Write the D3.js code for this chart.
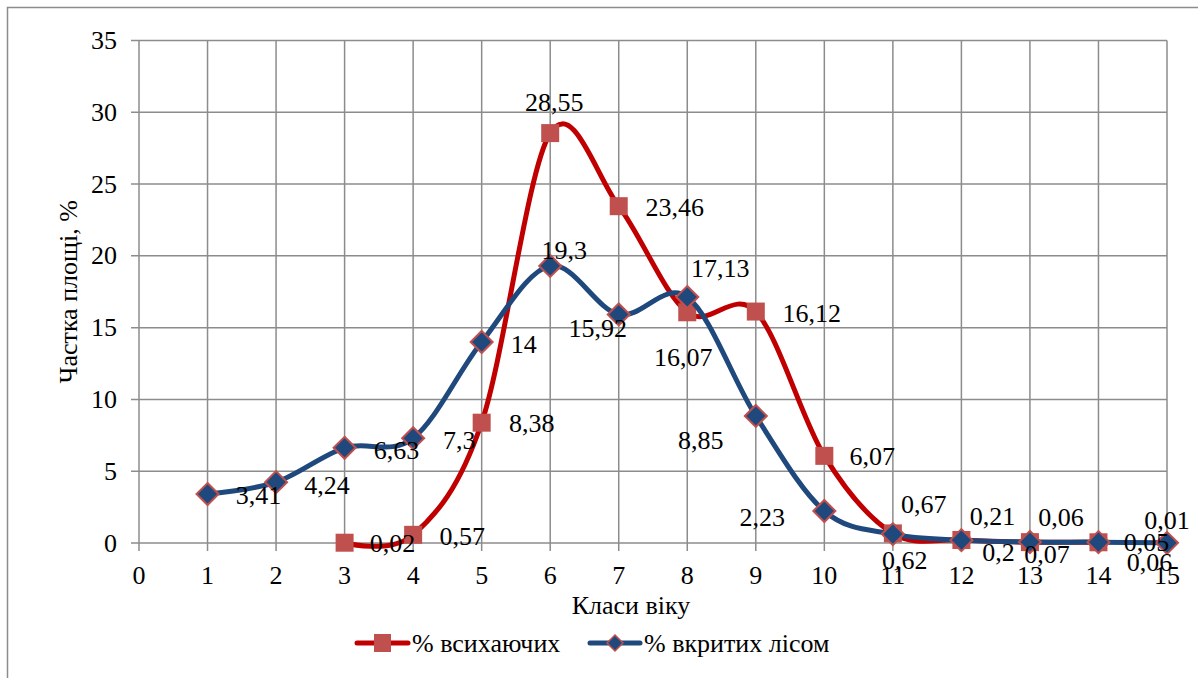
<!DOCTYPE html>
<html>
<head>
<meta charset="utf-8">
<script src="https://cdn.jsdelivr.net/npm/d3@7"></script>
<style>
  html, body { margin: 0; padding: 0; background: #fff; }
  svg { display: block; }
</style>
</head>
<body>
<svg id="chart" width="1198" height="678"></svg>
<script>
// ---- data ----
const xTicks = [0,1,2,3,4,5,6,7,8,9,10,11,12,13,14,15];
const yTicks = [0,5,10,15,20,25,30,35];
const redClasses = [3,4,5,6,7,8,9,10,11,12,13,14];
const redValues = [0.02,0.57,8.38,28.55,23.46,16.07,16.12,6.07,0.67,0.21,0.06,0.05];
const blueClasses = [1,2,3,4,5,6,7,8,9,10,11,12,13,14,15];
const blueValues = [3.41,4.24,6.63,7.3,14,19.3,15.92,17.13,8.85,2.23,0.62,0.2,0.07,0.06,0.01];
const redName = "% всихаючих";
const blueName = "% вкритих лісом";
const xTitle = "Класи віку";
const yTitle = "Частка площі, %";

// label placement offsets (pixels, label centre relative to point)
const redLabelDx = [48,49,50,4,56,-4,56,48,31,31,31,48];
const redLabelDy = [1,2,1,-31,1,45,2,1,-29,-24,-25,0];
const blueLabelDx = [51,51,52,46,42,14,-21,33,-55,-62,12,37,17,51,0];
const blueLabelDy = [1,3,3,2,2,-15,14,-29,24,6,26,12,12,20,-22];

(function () {
const FONT = "'Liberation Serif', 'Times New Roman', serif";
const fmt = v => String(v).replace(".", ",");

const svg = d3.select("#chart");
const W = 1198, H = 678;
const pL = 139, pR = 1167, pT = 40.5, pB = 543;

const x = d3.scaleLinear().domain([0, 15]).range([pL, pR]);
const y = d3.scaleLinear().domain([0, 35]).range([pB, pT]);

const gridColor = "#8c8c8c";
const txt = sel => sel.attr("font-family", FONT).style("font-family", FONT)
  .attr("font-size", 26).attr("fill", "#000");

// outer border
svg.append("rect").attr("x", 7.5).attr("y", 7.5).attr("width", W + 10).attr("height", H + 10)
  .attr("fill", "none").attr("stroke", "#8c8c8c").attr("stroke-width", 1.5);

// horizontal grid
svg.append("g").selectAll("line").data(yTicks).join("line")
  .attr("x1", pL - 8).attr("x2", pR)
  .attr("y1", d => y(d)).attr("y2", d => y(d))
  .attr("stroke", gridColor).attr("stroke-width", 1.5);

// vertical grid
svg.append("g").selectAll("line").data(xTicks).join("line")
  .attr("x1", d => x(d)).attr("x2", d => x(d))
  .attr("y1", pT).attr("y2", pB + 8)
  .attr("stroke", gridColor).attr("stroke-width", 1.5);

// y tick labels
svg.append("g").selectAll("text").data(yTicks).join("text")
  .attr("x", 117).attr("y", d => y(d)).attr("dy", "0.33em")
  .attr("text-anchor", "end").call(txt)
  .text(d => d);

// x tick labels
svg.append("g").selectAll("text").data(xTicks).join("text")
  .attr("x", d => x(d)).attr("y", 584)
  .attr("text-anchor", "middle").call(txt)
  .text(d => d);

// axis titles
svg.append("text").attr("x", 631).attr("y", 614).attr("text-anchor", "middle")
  .call(txt).text(xTitle);
svg.append("text").attr("transform", `translate(77,${(pT + pB) / 2}) rotate(-90)`)
  .attr("text-anchor", "middle").call(txt).text(yTitle);

const line = d3.line().x(d => x(d[0])).y(d => y(d[1])).curve(d3.curveCardinal.tension(0));

const redPts = redClasses.map((c, i) => [c, redValues[i]]);
const bluePts = blueClasses.map((c, i) => [c, blueValues[i]]);

const RED_LINE = "#C00000", RED_MARK = "#C0504D", BLUE = "#1F497D";

// red series
svg.append("path").datum(redPts).attr("d", line).attr("fill", "none")
  .attr("stroke", RED_LINE).attr("stroke-width", 5).attr("stroke-linejoin", "round");
svg.append("g").selectAll("rect").data(redPts).join("rect")
  .attr("x", d => x(d[0]) - 9).attr("y", d => y(d[1]) - 9)
  .attr("width", 18).attr("height", 18).attr("fill", RED_MARK);

// blue series
svg.append("path").datum(bluePts).attr("d", line).attr("fill", "none")
  .attr("stroke", BLUE).attr("stroke-width", 5).attr("stroke-linejoin", "round");
const diamond = (cx, cy, r) => `M${cx},${cy - r}L${cx + r},${cy}L${cx},${cy + r}L${cx - r},${cy}Z`;
svg.append("g").selectAll("path").data(bluePts).join("path")
  .attr("d", d => diamond(x(d[0]), y(d[1]), 11))
  .attr("fill", BLUE).attr("stroke", RED_MARK).attr("stroke-width", 2);

// data labels
svg.append("g").selectAll("text").data(redPts).join("text")
  .attr("x", (d, i) => x(d[0]) + redLabelDx[i]).attr("y", (d, i) => y(d[1]) + redLabelDy[i])
  .attr("dy", "0.33em").attr("text-anchor", "middle").call(txt)
  .text(d => fmt(d[1]));
svg.append("g").selectAll("text").data(bluePts).join("text")
  .attr("x", (d, i) => x(d[0]) + blueLabelDx[i]).attr("y", (d, i) => y(d[1]) + blueLabelDy[i])
  .attr("dy", "0.33em").attr("text-anchor", "middle").call(txt)
  .text(d => fmt(d[1]));

// legend
const lg = svg.append("g");
lg.append("line").attr("x1", 357).attr("x2", 408).attr("y1", 643).attr("y2", 643)
  .attr("stroke", RED_LINE).attr("stroke-width", 5).attr("stroke-linecap", "round");
lg.append("rect").attr("x", 374).attr("y", 634).attr("width", 17).attr("height", 18).attr("fill", RED_MARK);
lg.append("text").attr("x", 412).attr("y", 652).call(txt).text(redName);
lg.append("line").attr("x1", 590).attr("x2", 640).attr("y1", 643).attr("y2", 643)
  .attr("stroke", BLUE).attr("stroke-width", 5).attr("stroke-linecap", "round");
lg.append("path").attr("d", diamond(615, 643, 8)).attr("fill", BLUE)
  .attr("stroke", RED_MARK).attr("stroke-width", 1.5);
lg.append("text").attr("x", 644).attr("y", 652).call(txt).text(blueName);
})();
</script>
</body>
</html>
